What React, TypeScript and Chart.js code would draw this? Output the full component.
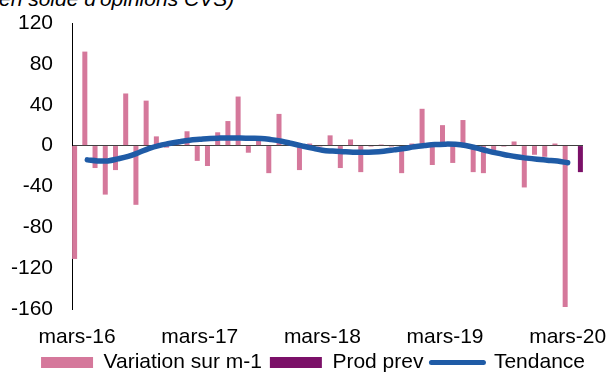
import { useEffect, useRef } from "react";
import { Chart, registerables } from "chart.js";

Chart.register(...registerables);

// Months from mars-16 to avr-20
const months = [
  "mars-16", "avr-16", "mai-16", "juin-16", "juil-16", "août-16", "sept-16", "oct-16", "nov-16", "déc-16",
  "janv-17", "févr-17", "mars-17", "avr-17", "mai-17", "juin-17", "juil-17", "août-17", "sept-17", "oct-17",
  "nov-17", "déc-17", "janv-18", "févr-18", "mars-18", "avr-18", "mai-18", "juin-18", "juil-18", "août-18",
  "sept-18", "oct-18", "nov-18", "déc-18", "janv-19", "févr-19", "mars-19", "avr-19", "mai-19", "juin-19",
  "juil-19", "août-19", "sept-19", "oct-19", "nov-19", "déc-19", "janv-20", "févr-20", "mars-20", "avr-20",
];

// Labels shown on the horizontal axis
const shownMonths = ["mars-16", "mars-17", "mars-18", "mars-19", "mars-20"];

// Variation sur m-1 (solde d'opinions CVS)
const variation = [
  -111, 92, -22, -48, -24, 51, -58, 44, 9, -2,
  2, 14, -15, -20, 13, 24, 48, -7, 5, -27,
  31, 1, -24, 2, -1, 10, -22, 6, -26, -1,
  1, -1, -27, 2, 36, -19, 20, -17, 25, -26,
  -27, -6, -1, 4, -41, -9, -11, 2, -158, null,
];

// Production prévue (dernier mois)
const prodPrev = [
  null, null, null, null, null, null, null, null, null, null,
  null, null, null, null, null, null, null, null, null, null,
  null, null, null, null, null, null, null, null, null, null,
  null, null, null, null, null, null, null, null, null, null,
  null, null, null, null, null, null, null, null, null, -26,
];

// Tendance lissée
const tendance = [
  null, -14, -15, -15, -13, -10.5, -7, -3, 0, 2,
  3.8, 5.3, 6.2, 7, 7.3, 7.4, 7.3, 7.2, 7, 5.8,
  4.2, 2, -0.3, -2.5, -4.5, -5.4, -6, -6.5, -6.6, -6.3,
  -5.5, -4.2, -2.8, -1.2, 0, 1, 1.4, 1.2, 0, -2.2,
  -4.8, -7.2, -9.2, -11, -12.3, -13.4, -14.3, -15.2, -16.8, null,
];

// Vertical axis range and step
const yMin = -160;
const yMax = 120;
const yStep = 40;

const PINK = "#D5789B";
const PURPLE = "#7B1068";
const BLUE = "#1F5BA6";
const FONT = "'Liberation Sans', Arial, sans-serif";

export default function App() {
  const canvasRef = useRef<HTMLCanvasElement | null>(null);

  useEffect(() => {
    document.body.style.margin = "0";
    document.body.style.overflow = "hidden";
    const canvas = canvasRef.current;
    if (!canvas) return;

    Chart.defaults.font.family = FONT;
    Chart.defaults.font.size = 21;
    Chart.defaults.color = "#000";

    const chart = new Chart(canvas, {
      type: "bar",
      data: {
        labels: months,
        datasets: [
          {
            type: "bar",
            label: "Variation sur m-1",
            data: variation,
            backgroundColor: PINK,
            borderWidth: 0,
            categoryPercentage: 0.98,
            barPercentage: 1.0,
            order: 2,
          },
          {
            type: "bar",
            label: "Prod prev",
            data: prodPrev,
            backgroundColor: PURPLE,
            borderWidth: 0,
            categoryPercentage: 0.98,
            barPercentage: 1.0,
            order: 2,
          },
          {
            type: "line",
            label: "Tendance",
            data: tendance,
            borderColor: BLUE,
            backgroundColor: BLUE,
            borderWidth: 5.5,
            borderCapStyle: "round",
            borderJoinStyle: "round",
            pointRadius: 0,
            pointHoverRadius: 0,
            tension: 0.4,
            fill: false,
            order: 1,
          },
        ],
      },
      options: {
        responsive: false,
        animation: false,
        events: [],
        layout: { padding: { left: 0, right: 18, top: 23, bottom: 0 } },
        scales: {
          x: {
            type: "category",
            offset: true,
            grid: { display: false, drawTicks: false },
            border: { display: false },
            ticks: {
              autoSkip: false,
              maxRotation: 0,
              minRotation: 0,
              padding: 16,
              font: { size: 21, family: FONT },
              color: "#000",
              callback: (_v: any, i: number) =>
                shownMonths.includes(months[i]) ? months[i] : "",
            },
            afterFit: (scale: any) => {
              scale.height = 35;
            },
          },
          y: {
            min: yMin,
            max: yMax,
            position: "left",
            ticks: {
              stepSize: yStep,
              padding: 19,
              font: { size: 21, family: FONT },
              color: "#000",
              callback: (v: any) => String(v),
            },
            grid: {
              drawTicks: false,
              color: (ctx: any) => (ctx.tick && ctx.tick.value === 0 ? "#404040" : "rgba(0,0,0,0)"),
              lineWidth: 1,
            },
            border: { display: true, color: "#000", width: 1 },
            afterFit: (scale: any) => {
              scale.width = 72;
              scale.paddingTop = 0;
              scale.paddingBottom = 0;
            },
          },
          yRight: {
            position: "right",
            display: true,
            min: yMin,
            max: yMax,
            ticks: { display: false },
            grid: { display: false, drawTicks: false },
            border: { display: false },
            afterFit: (scale: any) => {
              scale.width = 10;
              scale.paddingTop = 0;
              scale.paddingBottom = 0;
            },
          },
        },
        plugins: {
          tooltip: { enabled: false },
          title: { display: false },
          legend: {
            display: true,
            position: "bottom",
            align: "end",
            labels: {
              usePointStyle: true,
              pointStyleWidth: 52,
              boxHeight: 11,
              padding: 8,
              color: "#000",
              font: { size: 21, family: FONT },
              sort: (a: any, b: any) => a.datasetIndex - b.datasetIndex,
              generateLabels: (c: any) => {
                const items = (Chart.defaults.plugins.legend.labels as any).generateLabels(c);
                return items.map((it: any) =>
                  it.datasetIndex === 2
                    ? { ...it, pointStyle: "line", strokeStyle: BLUE, fillStyle: BLUE, lineWidth: 5, lineCap: "round" }
                    : { ...it, pointStyle: "rect", lineWidth: 0 }
                );
              },
            },
          },
        },
      },
    } as any);

    return () => chart.destroy();
  }, []);

  return (
    <div style={{ position: "relative", width: 611, height: 374, overflow: "hidden", background: "#fff" }}>
      <div
        style={{
          position: "absolute",
          left: -8,
          top: -12,
          fontFamily: FONT,
          fontStyle: "italic",
          fontSize: 21,
          lineHeight: "21px",
          whiteSpace: "nowrap",
          color: "#000",
        }}
      >
        (en solde d'opinions CVS)
      </div>
      <canvas
        ref={canvasRef}
        width={611}
        height={383}
        style={{ position: "absolute", left: 0, top: 0, width: 611, height: 383 }}
      />
    </div>
  );
}
